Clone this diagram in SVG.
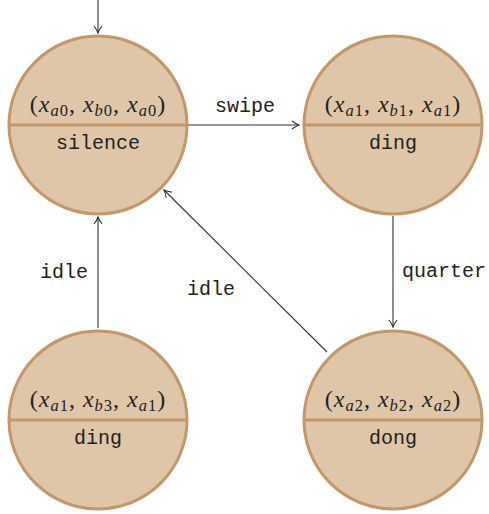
<svg xmlns="http://www.w3.org/2000/svg" width="489" height="514" viewBox="0 0 489 514">
<style>
.st{fill:#dfc6a9;stroke:#c4976a;stroke-width:3}
.dv{stroke:#c4976a;stroke-width:3.2}
.m{font-family:"Liberation Serif",serif;font-size:24px;fill:#222;letter-spacing:1px}
.m .i{font-style:italic}
.m .s{font-size:16.5px}
.m .s .i{font-style:italic}
.n{font-family:"Liberation Mono",monospace;font-size:20px;fill:#222;text-anchor:middle}
.e{stroke:#333;stroke-width:1.1;fill:none;marker-end:url(#ah)}
</style>
<defs>
<marker id="ah" viewBox="0 0 10 10" refX="9" refY="5" markerWidth="10" markerHeight="10" markerUnits="userSpaceOnUse" orient="auto">
<path d="M2,1 Q6,4 9,5 Q6,6 2,9" fill="none" stroke="#333" stroke-width="1.1"/>
</marker>
</defs>
<g id="connectors">
<line class="e" x1="98" y1="0" x2="98" y2="33"/>
<line class="e" x1="188" y1="125" x2="299" y2="125"/>
<line class="e" x1="393" y1="216" x2="393" y2="327"/>
<line class="e" x1="98" y1="328" x2="98" y2="217"/>
<line class="e" x1="327" y1="352" x2="164" y2="190"/>
<text class="n" x="245" y="112">swipe</text>
<text class="n" x="444" y="277">quarter</text>
<text class="n" x="64" y="278">idle</text>
<text class="n" x="211" y="295">idle</text>
</g>
<g id="s0">
<circle class="st" cx="98" cy="125" r="89"/>
<line class="dv" x1="9" y1="125" x2="187" y2="125"/>
<text class="m" x="98" y="112" text-anchor="middle">(<tspan class="i">x</tspan><tspan class="s" dy="4"><tspan class="i">a</tspan>0</tspan><tspan dy="-4">, </tspan><tspan class="i">x</tspan><tspan class="s" dy="4"><tspan class="i">b</tspan>0</tspan><tspan dy="-4">, </tspan><tspan class="i">x</tspan><tspan class="s" dy="4"><tspan class="i">a</tspan>0</tspan><tspan dy="-4">)</tspan></text>
<text class="n" x="98" y="149">silence</text>
</g>
<g id="s1">
<circle class="st" cx="393" cy="125" r="89"/>
<line class="dv" x1="304" y1="125" x2="482" y2="125"/>
<text class="m" x="393" y="112" text-anchor="middle">(<tspan class="i">x</tspan><tspan class="s" dy="4"><tspan class="i">a</tspan>1</tspan><tspan dy="-4">, </tspan><tspan class="i">x</tspan><tspan class="s" dy="4"><tspan class="i">b</tspan>1</tspan><tspan dy="-4">, </tspan><tspan class="i">x</tspan><tspan class="s" dy="4"><tspan class="i">a</tspan>1</tspan><tspan dy="-4">)</tspan></text>
<text class="n" x="393" y="149">ding</text>
</g>
<g id="s3">
<circle class="st" cx="98" cy="420" r="89"/>
<line class="dv" x1="9" y1="420" x2="187" y2="420"/>
<text class="m" x="98" y="407" text-anchor="middle">(<tspan class="i">x</tspan><tspan class="s" dy="4"><tspan class="i">a</tspan>1</tspan><tspan dy="-4">, </tspan><tspan class="i">x</tspan><tspan class="s" dy="4"><tspan class="i">b</tspan>3</tspan><tspan dy="-4">, </tspan><tspan class="i">x</tspan><tspan class="s" dy="4"><tspan class="i">a</tspan>1</tspan><tspan dy="-4">)</tspan></text>
<text class="n" x="98" y="444">ding</text>
</g>
<g id="s2">
<circle class="st" cx="393" cy="420" r="89"/>
<line class="dv" x1="304" y1="420" x2="482" y2="420"/>
<text class="m" x="393" y="407" text-anchor="middle">(<tspan class="i">x</tspan><tspan class="s" dy="4"><tspan class="i">a</tspan>2</tspan><tspan dy="-4">, </tspan><tspan class="i">x</tspan><tspan class="s" dy="4"><tspan class="i">b</tspan>2</tspan><tspan dy="-4">, </tspan><tspan class="i">x</tspan><tspan class="s" dy="4"><tspan class="i">a</tspan>2</tspan><tspan dy="-4">)</tspan></text>
<text class="n" x="393" y="444">dong</text>
</g>
</svg>
